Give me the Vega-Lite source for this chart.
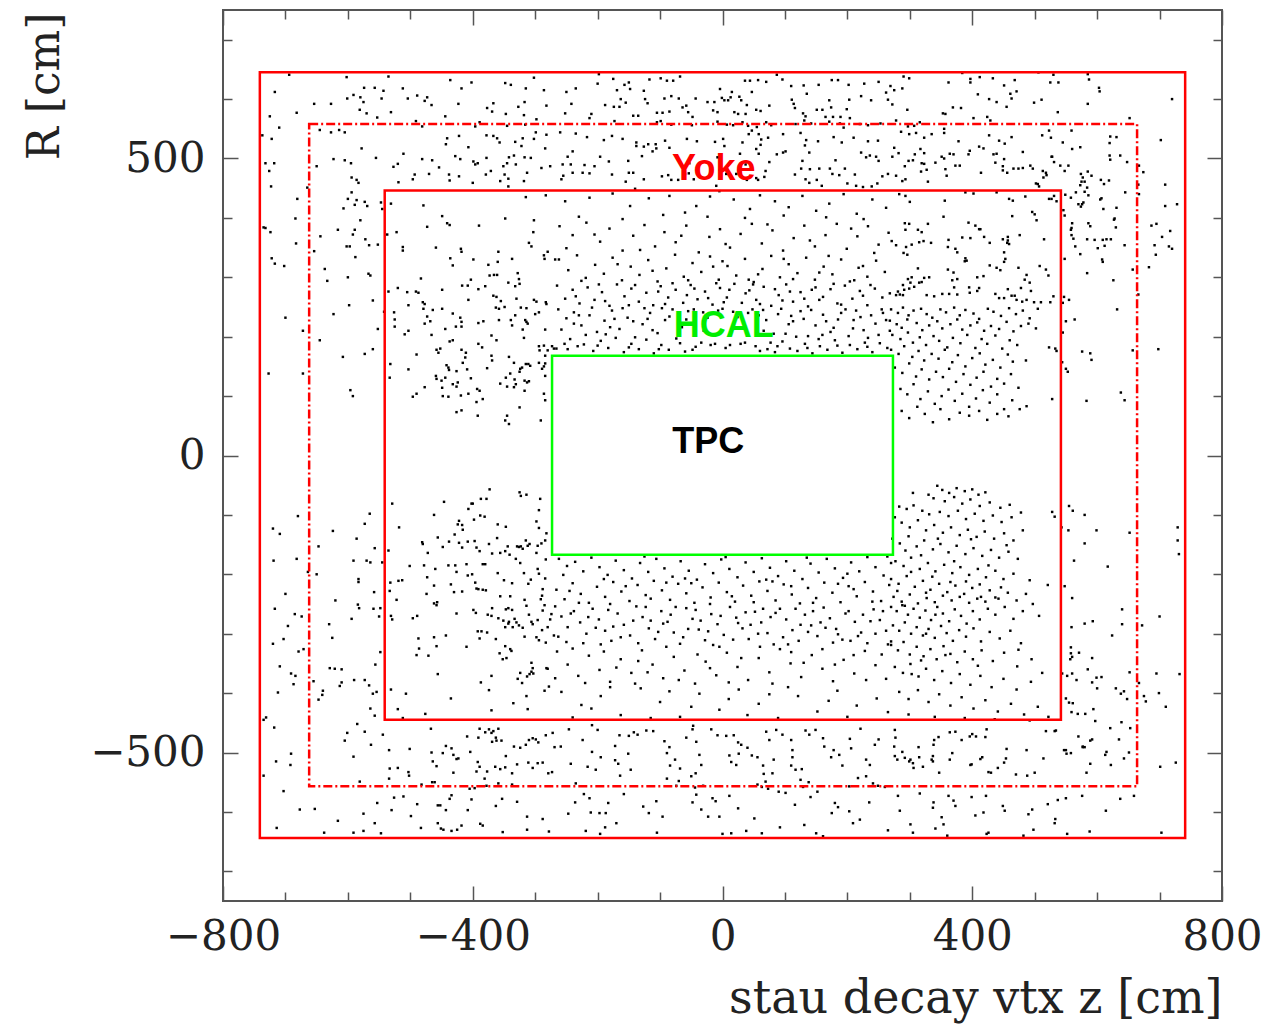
{
  "$schema": "https://vega.github.io/schema/vega-lite/v6.json",
  "autosize": {"type": "none"},
  "width": 999,
  "height": 891,
  "padding": {"left": 223, "top": 10, "right": 64, "bottom": 124},
  "background": "white",
  "config": {
    "view": {"stroke": "#555555", "strokeWidth": 2},
    "axis": {"grid": false, "domain": false, "tickColor": "#555555", "tickWidth": 1.5, "labelFont": "DejaVu Serif", "labelFontSize": 42, "labelColor": "#222222", "titleFont": "DejaVu Serif", "titleFontSize": 44, "titleFontWeight": "normal", "titleColor": "#222222"}
  },
  "datasets": {
    "boxes": [
      {"part": "Yoke outer", "z1": -741, "z2": 741, "r1": -644, "r2": 645},
      {"part": "Yoke inner", "z1": -541, "z2": 542, "r1": -445, "r2": 446},
      {"part": "Yoke middle", "z1": -662, "z2": 664, "r1": -557, "r2": 558},
      {"part": "HCAL", "z1": -273, "z2": 273, "r1": -167, "r2": 168}
    ],
    "labels": [
      {"label": "Yoke", "z": -14, "R": 464},
      {"label": "HCAL", "z": 2, "R": 200},
      {"label": "TPC", "z": -23, "R": 4}
    ]
  },
  "data": {"values": [
{"z":-694,"R":641},{"z":-602,"R":637},{"z":-535,"R":638},{"z":-436,"R":632},{"z":-402,"R":628},{"z":-348,"R":627},{"z":-339,"R":624},{"z":-302,"R":636},{"z":-717,"R":612},{"z":-574,"R":619},{"z":-557,"R":619},{"z":-543,"R":614},{"z":-512,"R":618},{"z":-418,"R":618},{"z":-315,"R":618},{"z":-286,"R":615},{"z":-591,"R":607},{"z":-601,"R":601},{"z":-580,"R":603},{"z":-546,"R":601},{"z":-504,"R":601},{"z":-489,"R":606},{"z":-477,"R":597},{"z":-473,"R":603},{"z":-575,"R":595},{"z":-654,"R":592},{"z":-627,"R":592},{"z":-466,"R":590},{"z":-423,"R":592},{"z":-367,"R":593},{"z":-327,"R":587},{"z":-317,"R":595},{"z":-282,"R":589},{"z":-581,"R":582},{"z":-570,"R":576},{"z":-531,"R":578},{"z":-682,"R":577},{"z":-725,"R":571},{"z":-553,"R":569},{"z":-444,"R":571},{"z":-377,"R":585},{"z":-369,"R":579},{"z":-347,"R":575},{"z":-318,"R":573},{"z":-491,"R":563},{"z":-389,"R":561},{"z":-298,"R":566},{"z":-710,"R":552},{"z":-645,"R":548},{"z":-627,"R":544},{"z":-614,"R":548},{"z":-605,"R":544},{"z":-481,"R":554},{"z":-396,"R":554},{"z":-345,"R":555},{"z":-316,"R":557},{"z":-737,"R":539},{"z":-722,"R":533},{"z":-422,"R":538},{"z":-441,"R":534},{"z":-378,"R":539},{"z":-367,"R":538},{"z":-361,"R":534},{"z":-357,"R":527},{"z":-332,"R":528},{"z":-320,"R":534},{"z":-302,"R":533},{"z":-299,"R":544},{"z":-282,"R":540},{"z":-443,"R":524},{"z":-578,"R":517},{"z":-407,"R":519},{"z":-322,"R":521},{"z":-284,"R":517},{"z":-555,"R":501},{"z":-623,"R":499},{"z":-605,"R":497},{"z":-595,"R":492},{"z":-511,"R":508},{"z":-481,"R":499},{"z":-465,"R":497},{"z":-428,"R":504},{"z":-420,"R":499},{"z":-399,"R":495},{"z":-392,"R":492},{"z":-378,"R":501},{"z":-342,"R":502},{"z":-334,"R":505},{"z":-317,"R":502},{"z":-307,"R":501},{"z":-732,"R":492},{"z":-718,"R":492},{"z":-726,"R":479},{"z":-650,"R":487},{"z":-527,"R":486},{"z":-520,"R":491},{"z":-454,"R":485},{"z":-396,"R":490},{"z":-351,"R":487},{"z":-345,"R":492},{"z":-331,"R":490},{"z":-290,"R":484},{"z":-276,"R":487},{"z":-313,"R":476},{"z":-493,"R":473},{"z":-470,"R":474},{"z":-438,"R":473},{"z":-422,"R":470},{"z":-379,"R":473},{"z":-371,"R":479},{"z":-349,"R":473},{"z":-723,"R":453},{"z":-665,"R":451},{"z":-594,"R":468},{"z":-586,"R":464},{"z":-583,"R":459},{"z":-519,"R":460},{"z":-496,"R":465},{"z":-437,"R":463},{"z":-400,"R":459},{"z":-356,"R":462},{"z":-343,"R":466},{"z":-318,"R":462},{"z":-343,"R":453},
{"z":-681,"R":432},{"z":-600,"R":432},{"z":-586,"R":430},{"z":-607,"R":416},{"z":-589,"R":422},{"z":-573,"R":427},{"z":-569,"R":420},{"z":-547,"R":426},{"z":-545,"R":415},{"z":-684,"R":399},{"z":-580,"R":396},{"z":-735,"R":384},{"z":-732,"R":383},{"z":-724,"R":376},{"z":-644,"R":369},{"z":-616,"R":380},{"z":-592,"R":372},{"z":-589,"R":380},{"z":-572,"R":364},{"z":-566,"R":354},{"z":-552,"R":355},{"z":-602,"R":352},{"z":-597,"R":352},{"z":-588,"R":334},{"z":-654,"R":344},{"z":-683,"R":357},{"z":-722,"R":332},{"z":-717,"R":323},{"z":-702,"R":319},{"z":-637,"R":314},{"z":-633,"R":294},{"z":-600,"R":300},{"z":-567,"R":306},{"z":-564,"R":303},{"z":-560,"R":261},{"z":-598,"R":253},{"z":-594,"R":443},{"z":-700,"R":232},{"z":-672,"R":210},{"z":-645,"R":194},{"z":-623,"R":238},{"z":-608,"R":166},{"z":-573,"R":171},{"z":-560,"R":179},{"z":-552,"R":213},{"z":-727,"R":138},{"z":-672,"R":138},{"z":-596,"R":110},{"z":-592,"R":100},{"z":-542,"R":242},
{"z":-531,"R":424},{"z":-479,"R":421},{"z":-449,"R":403},{"z":-441,"R":391},{"z":-437,"R":388},{"z":-473,"R":385},{"z":-390,"R":387},{"z":-348,"R":399},{"z":-302,"R":396},{"z":-303,"R":376},{"z":-315,"R":435},{"z":-283,"R":438},{"z":-537,"R":372},{"z":-522,"R":376},{"z":-512,"R":351},{"z":-512,"R":345},{"z":-459,"R":350},{"z":-419,"R":348},{"z":-418,"R":343},{"z":-436,"R":332},{"z":-399,"R":330},{"z":-432,"R":320},{"z":-375,"R":321},{"z":-359,"R":343},{"z":-360,"R":326},{"z":-337,"R":331},{"z":-366,"R":304},{"z":-361,"R":304},{"z":-373,"R":303},{"z":-328,"R":307},{"z":-326,"R":297},{"z":-310,"R":358},{"z":-306,"R":352},{"z":-286,"R":337},{"z":-280,"R":343},{"z":-285,"R":331},{"z":-268,"R":330},{"z":-403,"R":296},{"z":-417,"R":286},{"z":-408,"R":286},{"z":-483,"R":298},{"z":-520,"R":282},{"z":-505,"R":275},{"z":-491,"R":276},{"z":-487,"R":274},{"z":-449,"R":279},{"z":-380,"R":285},{"z":-391,"R":280},{"z":-367,"R":269},{"z":-362,"R":267},{"z":-343,"R":291},{"z":-332,"R":285},{"z":-325,"R":289},{"z":-330,"R":264},{"z":-302,"R":262},{"z":-298,"R":259},{"z":-283,"R":258},{"z":-282,"R":255},{"z":-535,"R":276},{"z":-503,"R":253},{"z":-480,"R":258},{"z":-477,"R":255},{"z":-407,"R":262},{"z":-355,"R":260},
{"z":-526,"R":241},{"z":-525,"R":229},{"z":-525,"R":217},{"z":-532,"R":154},{"z":-533,"R":131},{"z":-509,"R":204},{"z":-503,"R":210},{"z":-490,"R":170},{"z":-503,"R":145},{"z":-496,"R":99},{"z":-490,"R":104},{"z":-477,"R":115},{"z":-479,"R":247},{"z":-464,"R":245},{"z":-449,"R":247},{"z":-473,"R":234},{"z":-468,"R":226},{"z":-477,"R":222},{"z":-466,"R":203},{"z":-444,"R":213},{"z":-458,"R":178},{"z":-452,"R":180},{"z":-455,"R":173},{"z":-432,"R":239},{"z":-420,"R":232},{"z":-418,"R":225},{"z":-418,"R":217},{"z":-427,"R":217},{"z":-437,"R":192},{"z":-432,"R":194},{"z":-418,"R":178},{"z":-411,"R":173},{"z":-412,"R":165},{"z":-442,"R":152},{"z":-439,"R":148},{"z":-438,"R":144},{"z":-426,"R":142},{"z":-416,"R":156},{"z":-409,"R":145},{"z":-459,"R":134},{"z":-458,"R":129},{"z":-450,"R":126},{"z":-444,"R":131},{"z":-432,"R":120},{"z":-426,"R":116},{"z":-424,"R":123},{"z":-449,"R":114},{"z":-448,"R":100},{"z":-439,"R":99},{"z":-419,"R":101},{"z":-407,"R":104},{"z":-393,"R":112},{"z":-389,"R":109},{"z":-394,"R":90},{"z":-384,"R":95},{"z":-403,"R":130},{"z":-426,"R":73},{"z":-418,"R":76},{"z":-392,"R":67},{"z":-391,"R":188},{"z":-385,"R":182},{"z":-391,"R":223},{"z":-383,"R":226},{"z":-363,"R":249},{"z":-358,"R":247},{"z":-349,"R":250},{"z":-332,"R":236},{"z":-323,"R":249},{"z":-314,"R":248},{"z":-300,"R":238},{"z":-294,"R":241},{"z":-370,"R":202},{"z":-362,"R":194},{"z":-358,"R":228},{"z":-339,"R":228},{"z":-337,"R":219},{"z":-316,"R":228},{"z":-314,"R":225},{"z":-312,"R":222},{"z":-320,"R":212},{"z":-318,"R":198},{"z":-370,"R":168},{"z":-369,"R":160},{"z":-342,"R":166},{"z":-377,"R":147},{"z":-334,"R":156},{"z":-324,"R":146},{"z":-321,"R":148},{"z":-325,"R":141},{"z":-347,"R":131},{"z":-340,"R":138},{"z":-333,"R":128},{"z":-331,"R":120},{"z":-334,"R":115},{"z":-345,"R":116},{"z":-356,"R":121},{"z":-317,"R":126},{"z":-313,"R":123},{"z":-310,"R":125},{"z":-315,"R":154},{"z":-311,"R":154},{"z":-308,"R":151},{"z":-294,"R":156},{"z":-289,"R":146},{"z":-286,"R":150},{"z":-284,"R":155},{"z":-286,"R":104},{"z":-284,"R":93},{"z":-317,"R":109},{"z":-294,"R":184},{"z":-293,"R":177},{"z":-286,"R":185},{"z":-280,"R":177},{"z":-273,"R":184},{"z":-270,"R":180},{"z":-284,"R":212},{"z":-284,"R":168},{"z":-284,"R":134},{"z":-325,"R":81},{"z":-348,"R":59},{"z":-342,"R":53},{"z":-345,"R":67},{"z":-291,"R":59},
{"z":-680,"R":-102},{"z":-720,"R":-123},{"z":-709,"R":-132},{"z":-624,"R":-127},{"z":-647,"R":-153},{"z":-719,"R":-177},{"z":-682,"R":-174},{"z":-664,"R":-196},{"z":-650,"R":-200},{"z":-700,"R":-233},{"z":-620,"R":-244},{"z":-586,"R":-140},{"z":-573,"R":-115},{"z":-565,"R":-98},{"z":-557,"R":-156},{"z":-570,"R":-177},{"z":-564,"R":-180},{"z":-591,"R":-177},{"z":-583,"R":-208},{"z":-583,"R":-213},{"z":-558,"R":-230},{"z":-545,"R":-180},
{"z":-529,"R":-81},{"z":-518,"R":-121},{"z":-535,"R":-160},{"z":-532,"R":-214},{"z":-533,"R":-228},{"z":-513,"R":-210},{"z":-519,"R":-211},{"z":-522,"R":-243},{"z":-501,"R":-186},{"z":-481,"R":-146},{"z":-480,"R":-149},{"z":-462,"R":-100},{"z":-472,"R":-164},{"z":-478,"R":-185},{"z":-460,"R":-191},{"z":-473,"R":-205},{"z":-462,"R":-219},{"z":-474,"R":-233},{"z":-457,"R":-247},{"z":-446,"R":-78},{"z":-456,"R":-138},{"z":-448,"R":-154},{"z":-438,"R":-145},{"z":-439,"R":-185},{"z":-428,"R":-185},{"z":-426,"R":-196},{"z":-435,"R":-217},{"z":-430,"R":-230},{"z":-417,"R":-229},{"z":-429,"R":-133},{"z":-422,"R":-110},{"z":-424,"R":-116},{"z":-417,"R":-117},{"z":-416,"R":-125},{"z":-407,"R":-90},{"z":-402,"R":-81},{"z":-400,"R":-81},{"z":-398,"R":-108},{"z":-387,"R":-73},{"z":-378,"R":-73},{"z":-373,"R":-57},{"z":-388,"R":-101},{"z":-381,"R":-103},{"z":-422,"R":-147},{"z":-417,"R":-155},{"z":-408,"R":-145},{"z":-397,"R":-144},{"z":-394,"R":-155},{"z":-389,"R":-161},{"z":-384,"R":-183},{"z":-380,"R":-183},{"z":-410,"R":-183},{"z":-408,"R":-202},{"z":-401,"R":-200},{"z":-396,"R":-214},{"z":-394,"R":-224},{"z":-391,"R":-225},{"z":-384,"R":-226},{"z":-379,"R":-227},{"z":-360,"R":-116},{"z":-347,"R":-120},{"z":-361,"R":-139},{"z":-374,"R":-149},{"z":-369,"R":-165},{"z":-360,"R":-198},{"z":-350,"R":-210},{"z":-356,"R":-164},{"z":-348,"R":-161},{"z":-344,"R":-153},{"z":-341,"R":-167},{"z":-329,"R":-153},{"z":-326,"R":-154},{"z":-323,"R":-153},{"z":-320,"R":-157},{"z":-331,"R":-174},{"z":-324,"R":-181},{"z":-356,"R":-237},{"z":-337,"R":-215},{"z":-340,"R":-237},{"z":-317,"R":-243},{"z":-298,"R":-164},{"z":-296,"R":-152},{"z":-312,"R":-152},{"z":-309,"R":-149},{"z":-315,"R":-143},{"z":-290,"R":-148},{"z":-284,"R":-143},{"z":-325,"R":-62},{"z":-323,"R":-68},{"z":-314,"R":-66},{"z":-292,"R":-73},{"z":-294,"R":-92},{"z":-298,"R":-111},{"z":-294,"R":-122},{"z":-282,"R":-131},{"z":-283,"R":-175},{"z":-296,"R":-191},{"z":-294,"R":-199},{"z":-284,"R":-207},{"z":-288,"R":-225},{"z":-289,"R":-236},{"z":-291,"R":-242},{"z":-307,"R":-209},{"z":-311,"R":-216},{"z":-318,"R":-198},
{"z":-717,"R":-258},{"z":-685,"R":-267},{"z":-674,"R":-271},{"z":-696,"R":-287},{"z":-703,"R":-309},{"z":-720,"R":-317},{"z":-679,"R":-330},{"z":-671,"R":-326},{"z":-709,"R":-355},{"z":-691,"R":-367},{"z":-684,"R":-371},{"z":-687,"R":-385},{"z":-712,"R":-399},{"z":-630,"R":-284},{"z":-625,"R":-307},{"z":-594,"R":-275},{"z":-584,"R":-251},{"z":-582,"R":-257},{"z":-559,"R":-258},{"z":-550,"R":-271},{"z":-548,"R":-257},{"z":-548,"R":-331},{"z":-556,"R":-352},{"z":-629,"R":-358},{"z":-621,"R":-359},{"z":-610,"R":-360},{"z":-590,"R":-378},{"z":-573,"R":-378},{"z":-566,"R":-387},{"z":-613,"R":-388},{"z":-610,"R":-382},{"z":-655,"R":-380},{"z":-640,"R":-396},{"z":-641,"R":-403},{"z":-647,"R":-411},{"z":-560,"R":-401},{"z":-554,"R":-398},{"z":-564,"R":-426},{"z":-557,"R":-438},{"z":-735,"R":-445},{"z":-731,"R":-441},
{"z":-531,"R":-270},{"z":-529,"R":-276},{"z":-496,"R":-274},{"z":-489,"R":-270},{"z":-462,"R":-249},{"z":-458,"R":-252},{"z":-426,"R":-266},{"z":-399,"R":-260},{"z":-395,"R":-265},{"z":-376,"R":-268},{"z":-370,"R":-270},{"z":-369,"R":-257},{"z":-359,"R":-274},{"z":-351,"R":-278},{"z":-347,"R":-259},{"z":-343,"R":-257},{"z":-337,"R":-260},{"z":-343,"R":-283},{"z":-336,"R":-289},{"z":-348,"R":-289},{"z":-342,"R":-280},{"z":-333,"R":-275},{"z":-330,"R":-281},{"z":-326,"R":-286},{"z":-320,"R":-290},{"z":-314,"R":-253},{"z":-310,"R":-268},{"z":-306,"R":-280},{"z":-304,"R":-284},{"z":-296,"R":-277},{"z":-288,"R":-261},{"z":-285,"R":-252},{"z":-274,"R":-267},{"z":-276,"R":-276},{"z":-280,"R":-289},{"z":-270,"R":-303},{"z":-487,"R":-308},{"z":-486,"R":-325},{"z":-490,"R":-336},{"z":-471,"R":-337},{"z":-462,"R":-306},{"z":-458,"R":-321},{"z":-443,"R":-303},{"z":-410,"R":-322},{"z":-389,"R":-308},{"z":-392,"R":-296},{"z":-386,"R":-296},{"z":-377,"R":-298},{"z":-363,"R":-309},{"z":-357,"R":-333},{"z":-348,"R":-321},{"z":-340,"R":-326},{"z":-338,"R":-329},{"z":-346,"R":-341},{"z":-352,"R":-343},{"z":-298,"R":-306},{"z":-294,"R":-311},{"z":-283,"R":-315},{"z":-289,"R":-294},{"z":-317,"R":-305},{"z":-456,"R":-368},{"z":-531,"R":-394},{"z":-507,"R":-401},{"z":-520,"R":-427},{"z":-512,"R":-442},{"z":-476,"R":-435},{"z":-435,"R":-409},{"z":-387,"R":-382},{"z":-374,"R":-395},{"z":-370,"R":-371},{"z":-370,"R":-429},{"z":-335,"R":-417},{"z":-324,"R":-366},{"z":-328,"R":-376},{"z":-321,"R":-383},{"z":-313,"R":-372},{"z":-309,"R":-368},{"z":-306,"R":-364},{"z":-303,"R":-367},{"z":-304,"R":-358},{"z":-306,"R":-349},{"z":-314,"R":-405},{"z":-312,"R":-427},{"z":-285,"R":-396},{"z":-278,"R":-389},{"z":-282,"R":-358},{"z":-280,"R":-359},{"z":-268,"R":-375},
{"z":-735,"R":-539},{"z":-715,"R":-515},{"z":-691,"R":-502},{"z":-692,"R":-521},{"z":-718,"R":-458},{"z":-703,"R":-565},{"z":-677,"R":-596},{"z":-653,"R":-595},{"z":-714,"R":-627},{"z":-616,"R":-615},{"z":-638,"R":-635},{"z":-591,"R":-507},{"z":-605,"R":-480},{"z":-601,"R":-467},{"z":-585,"R":-452},{"z":-573,"R":-465},{"z":-563,"R":-487},{"z":-544,"R":-470},{"z":-581,"R":-549},{"z":-575,"R":-603},{"z":-557,"R":-619},{"z":-553,"R":-585},{"z":-547,"R":-636},{"z":-591,"R":-635},{"z":-575,"R":-632},{"z":-534,"R":-496},{"z":-533,"R":-527},{"z":-534,"R":-544},{"z":-520,"R":-526},{"z":-503,"R":-533},{"z":-502,"R":-539},{"z":-501,"R":-494},{"z":-526,"R":-576},{"z":-530,"R":-597},{"z":-511,"R":-574},{"z":-499,"R":-607},{"z":-489,"R":-587},{"z":-467,"R":-460},{"z":-466,"R":-500},{"z":-464,"R":-515},{"z":-458,"R":-523},{"z":-448,"R":-501},{"z":-443,"R":-489},{"z":-434,"R":-493},{"z":-431,"R":-504},{"z":-423,"R":-510},{"z":-426,"R":-511},{"z":-431,"R":-534},{"z":-482,"R":-554},{"z":-465,"R":-550},{"z":-461,"R":-550},{"z":-456,"R":-589},{"z":-452,"R":-589},{"z":-443,"R":-597},{"z":-434,"R":-572},{"z":-437,"R":-578},{"z":-408,"R":-597},{"z":-402,"R":-579},{"z":-483,"R":-627},{"z":-456,"R":-619},{"z":-451,"R":-628},{"z":-447,"R":-630},{"z":-434,"R":-632},{"z":-425,"R":-630},{"z":-418,"R":-623},{"z":-388,"R":-620},{"z":-384,"R":-623},{"z":-409,"R":-473},{"z":-404,"R":-499},{"z":-391,"R":-475},{"z":-389,"R":-460},{"z":-380,"R":-466},{"z":-374,"R":-461},{"z":-370,"R":-467},{"z":-367,"R":-464},{"z":-359,"R":-460},{"z":-363,"R":-475},{"z":-369,"R":-482},{"z":-362,"R":-480},{"z":-354,"R":-480},{"z":-347,"R":-506},{"z":-334,"R":-490},{"z":-324,"R":-492},{"z":-315,"R":-487},{"z":-310,"R":-479},{"z":-304,"R":-476},{"z":-299,"R":-478},{"z":-295,"R":-483},{"z":-283,"R":-471},{"z":-272,"R":-467},{"z":-269,"R":-491},{"z":-392,"R":-516},{"z":-389,"R":-524},{"z":-394,"R":-532},{"z":-381,"R":-544},{"z":-377,"R":-532},{"z":-364,"R":-524},{"z":-356,"R":-528},{"z":-348,"R":-525},{"z":-337,"R":-535},{"z":-329,"R":-520},{"z":-311,"R":-517},{"z":-304,"R":-526},{"z":-296,"R":-518},{"z":-288,"R":-517},{"z":-279,"R":-535},{"z":-273,"R":-533},{"z":-405,"R":-561},{"z":-397,"R":-560},{"z":-378,"R":-556},{"z":-359,"R":-552},{"z":-337,"R":-554},{"z":-363,"R":-590},{"z":-353,"R":-578},{"z":-329,"R":-583},{"z":-313,"R":-608},{"z":-288,"R":-612},{"z":-313,"R":-630},{"z":-278,"R":-633},{"z":-352,"R":-634},
{"z":-198,"R":642},{"z":-200,"R":626},{"z":-175,"R":634},{"z":-169,"R":615},{"z":-157,"R":624},{"z":-150,"R":628},{"z":-148,"R":617},{"z":-126,"R":614},{"z":-117,"R":633},{"z":-99,"R":635},{"z":-89,"R":631},{"z":-79,"R":631},{"z":-68,"R":638},{"z":-250,"R":612},{"z":-235,"R":618},{"z":-163,"R":600},{"z":-124,"R":600},{"z":-93,"R":601},{"z":-82,"R":605},{"z":-70,"R":601},{"z":-43,"R":601},{"z":-24,"R":595},{"z":-13,"R":595},{"z":-4,"R":617},{"z":-1,"R":602},{"z":15,"R":612},{"z":13,"R":603},{"z":9,"R":598},{"z":27,"R":604},{"z":30,"R":598},{"z":47,"R":612},{"z":36,"R":631},{"z":44,"R":631},{"z":57,"R":632},{"z":70,"R":629},{"z":87,"R":641},{"z":96,"R":633},{"z":110,"R":622},{"z":130,"R":623},{"z":135,"R":609},{"z":154,"R":624},{"z":175,"R":632},{"z":185,"R":632},{"z":202,"R":624},{"z":227,"R":626},{"z":250,"R":629},{"z":262,"R":611},{"z":-242,"R":592},{"z":-188,"R":590},{"z":-174,"R":587},{"z":-165,"R":587},{"z":-155,"R":594},{"z":-120,"R":593},{"z":-105,"R":577},{"z":-96,"R":577},{"z":-85,"R":579},{"z":-64,"R":586},{"z":-58,"R":589},{"z":-55,"R":578},{"z":-48,"R":570},{"z":-15,"R":581},{"z":-8,"R":578},{"z":3,"R":598},{"z":19,"R":578},{"z":25,"R":575},{"z":37,"R":575},{"z":39,"R":590},{"z":54,"R":582},{"z":61,"R":580},{"z":75,"R":589},{"z":111,"R":599},{"z":114,"R":592},{"z":116,"R":585},{"z":129,"R":576},{"z":133,"R":571},{"z":151,"R":582},{"z":160,"R":582},{"z":165,"R":570},{"z":171,"R":598},{"z":174,"R":586},{"z":177,"R":570},{"z":189,"R":570},{"z":199,"R":583},{"z":203,"R":599},{"z":204,"R":568},{"z":222,"R":605},{"z":238,"R":598},{"z":265,"R":599},{"z":-252,"R":576},{"z":-213,"R":568},{"z":-210,"R":575},{"z":-173,"R":563},{"z":-143,"R":572},{"z":-135,"R":572},{"z":-105,"R":561},{"z":-99,"R":563},{"z":-82,"R":557},{"z":-49,"R":556},{"z":-8,"R":562},{"z":7,"R":557},{"z":17,"R":556},{"z":32,"R":561},{"z":41,"R":555},{"z":55,"R":553},{"z":70,"R":561},{"z":78,"R":556},{"z":117,"R":558},{"z":131,"R":564},{"z":142,"R":559},{"z":171,"R":562},{"z":188,"R":559},{"z":194,"R":552},{"z":220,"R":558},{"z":233,"R":556},{"z":253,"R":559},{"z":-260,"R":544},{"z":-235,"R":542},{"z":-217,"R":536},{"z":-190,"R":531},{"z":-177,"R":538},{"z":-160,"R":533},{"z":-138,"R":527},{"z":-138,"R":521},{"z":-126,"R":520},{"z":-119,"R":524},{"z":-107,"R":524},{"z":-92,"R":530},{"z":-57,"R":533},{"z":-41,"R":529},{"z":-12,"R":528},{"z":1,"R":533},{"z":3,"R":521},{"z":32,"R":527},{"z":42,"R":541},{"z":47,"R":547},{"z":58,"R":541},{"z":62,"R":532},{"z":73,"R":535},{"z":61,"R":523},{"z":97,"R":541},{"z":125,"R":543},{"z":134,"R":531},{"z":132,"R":522},{"z":153,"R":529},{"z":178,"R":536},{"z":191,"R":527},{"z":210,"R":535},{"z":233,"R":529},{"z":249,"R":530},{"z":-240,"R":512},{"z":-248,"R":503},{"z":-243,"R":490},{"z":-256,"R":490},{"z":-221,"R":489},{"z":-205,"R":487},{"z":-196,"R":503},{"z":-182,"R":495},{"z":-151,"R":496},{"z":-129,"R":504},{"z":-112,"R":512},{"z":-106,"R":517},{"z":-85,"R":518},{"z":-60,"R":474},{"z":-54,"R":475},{"z":-46,"R":465},{"z":-53,"R":492},{"z":-8,"R":502},{"z":-4,"R":481},{"z":11,"R":492},{"z":28,"R":508},{"z":37,"R":490},{"z":54,"R":516},{"z":58,"R":508},{"z":69,"R":479},{"z":75,"R":494},{"z":57,"R":464},{"z":67,"R":469},{"z":87,"R":507},{"z":97,"R":510},{"z":101,"R":512},{"z":128,"R":496},{"z":126,"R":483},{"z":139,"R":510},{"z":140,"R":482},{"z":155,"R":483},{"z":172,"R":483},{"z":176,"R":474},{"z":181,"R":497},{"z":196,"R":483},{"z":212,"R":473},{"z":222,"R":510},{"z":230,"R":502},{"z":236,"R":505},{"z":246,"R":503},{"z":250,"R":496},{"z":256,"R":470},{"z":265,"R":474},{"z":-255,"R":471},{"z":-258,"R":465},{"z":-240,"R":476},{"z":-224,"R":476},{"z":-213,"R":475},{"z":-177,"R":473},{"z":-155,"R":461},{"z":-150,"R":476},{"z":-143,"R":476},{"z":-140,"R":449},{"z":-126,"R":465},{"z":-97,"R":470},{"z":-87,"R":472},{"z":-82,"R":464},{"z":-71,"R":464},{"z":-10,"R":454},{"z":6,"R":474},{"z":22,"R":474},{"z":39,"R":464},{"z":54,"R":467},{"z":116,"R":473},{"z":133,"R":465},{"z":139,"R":459},{"z":151,"R":464},{"z":159,"R":454},{"z":187,"R":472},{"z":200,"R":458},{"z":214,"R":454},{"z":225,"R":452},{"z":239,"R":453},{"z":248,"R":458},
{"z":384,"R":644},{"z":506,"R":645},{"z":530,"R":641},{"z":585,"R":642},{"z":587,"R":633},{"z":290,"R":638},{"z":299,"R":635},{"z":362,"R":628},{"z":397,"R":634},{"z":397,"R":628},{"z":412,"R":637},{"z":433,"R":635},{"z":468,"R":632},{"z":525,"R":628},{"z":538,"R":628},{"z":269,"R":622},{"z":275,"R":615},{"z":288,"R":618},{"z":451,"R":623},{"z":461,"R":609},{"z":471,"R":613},{"z":463,"R":601},{"z":409,"R":608},{"z":427,"R":600},{"z":439,"R":595},{"z":455,"R":587},{"z":499,"R":594},{"z":511,"R":599},{"z":603,"R":619},{"z":604,"R":613},{"z":585,"R":592},{"z":720,"R":600},{"z":272,"R":591},{"z":296,"R":582},{"z":369,"R":586},{"z":382,"R":585},{"z":353,"R":576},{"z":357,"R":575},{"z":537,"R":578},{"z":402,"R":568},{"z":424,"R":570},{"z":429,"R":564},{"z":278,"R":564},{"z":316,"R":561},{"z":297,"R":554},{"z":307,"R":555},{"z":652,"R":568},{"z":355,"R":550},{"z":355,"R":543},{"z":335,"R":541},{"z":323,"R":535},{"z":286,"R":545},{"z":299,"R":541},{"z":310,"R":543},{"z":378,"R":529},{"z":427,"R":539},{"z":443,"R":530},{"z":452,"R":525},{"z":463,"R":536},{"z":512,"R":539},{"z":526,"R":535},{"z":523,"R":547},{"z":559,"R":547},{"z":545,"R":527},{"z":560,"R":516},{"z":621,"R":537},{"z":620,"R":526},{"z":631,"R":536},{"z":702,"R":531},{"z":275,"R":518},{"z":317,"R":516},{"z":323,"R":509},{"z":308,"R":507},{"z":351,"R":503},{"z":355,"R":500},{"z":364,"R":508},{"z":370,"R":507},{"z":394,"R":507},{"z":396,"R":513},{"z":411,"R":520},{"z":418,"R":517},{"z":434,"R":507},{"z":439,"R":508},{"z":451,"R":499},{"z":481,"R":511},{"z":528,"R":503},{"z":531,"R":494},{"z":620,"R":505},{"z":621,"R":498},{"z":637,"R":505},{"z":648,"R":494},{"z":573,"R":519},{"z":272,"R":503},{"z":282,"R":509},{"z":292,"R":487},{"z":298,"R":496},{"z":305,"R":497},{"z":319,"R":492},{"z":323,"R":491},{"z":318,"R":478},{"z":327,"R":481},{"z":341,"R":493},{"z":329,"R":461},{"z":288,"R":462},{"z":293,"R":465},{"z":278,"R":471},{"z":357,"R":482},{"z":359,"R":471},{"z":373,"R":488},{"z":380,"R":488},{"z":414,"R":476},{"z":437,"R":493},{"z":449,"R":487},{"z":456,"R":476},{"z":449,"R":480},{"z":466,"R":483},{"z":474,"R":483},{"z":481,"R":484},{"z":497,"R":483},{"z":493,"R":488},{"z":513,"R":479},{"z":518,"R":476},{"z":519,"R":472},{"z":514,"R":468},{"z":505,"R":457},{"z":502,"R":458},{"z":507,"R":453},{"z":527,"R":503},{"z":541,"R":488},{"z":548,"R":479},{"z":554,"R":488},{"z":574,"R":474},{"z":577,"R":468},{"z":575,"R":461},{"z":580,"R":461},{"z":585,"R":478},{"z":591,"R":471},{"z":573,"R":455},{"z":606,"R":464},{"z":611,"R":457},{"z":619,"R":463},
{"z":549,"R":439},{"z":558,"R":434},{"z":566,"R":443},{"z":576,"R":423},{"z":570,"R":423},{"z":574,"R":419},{"z":578,"R":426},{"z":584,"R":451},{"z":580,"R":444},{"z":586,"R":438},{"z":605,"R":431},{"z":607,"R":433},{"z":610,"R":415},{"z":631,"R":417},{"z":548,"R":404},{"z":546,"R":413},{"z":560,"R":391},{"z":558,"R":380},{"z":559,"R":371},{"z":562,"R":365},{"z":559,"R":383},{"z":586,"R":391},{"z":589,"R":386},{"z":584,"R":364},{"z":596,"R":363},{"z":609,"R":363},{"z":615,"R":364},{"z":622,"R":364},{"z":601,"R":349},{"z":612,"R":353},{"z":627,"R":397},{"z":630,"R":384},{"z":628,"R":399},{"z":644,"R":354},{"z":645,"R":443},{"z":687,"R":387},{"z":695,"R":390},{"z":683,"R":317},{"z":657,"R":313},{"z":565,"R":352},{"z":573,"R":339},{"z":548,"R":331},{"z":584,"R":307},{"z":608,"R":330},{"z":609,"R":326},{"z":667,"R":488},{"z":674,"R":477},{"z":666,"R":456},{"z":667,"R":440},{"z":709,"R":456},{"z":709,"R":420},{"z":717,"R":378},{"z":704,"R":368},{"z":715,"R":352},{"z":720,"R":348},{"z":692,"R":354},{"z":694,"R":338},{"z":728,"R":423},{"z":666,"R":271},{"z":626,"R":295},{"z":555,"R":262},{"z":547,"R":267},{"z":545,"R":257},{"z":550,"R":226},{"z":564,"R":229},{"z":545,"R":207},{"z":533,"R":180},{"z":535,"R":176},{"z":523,"R":182},{"z":544,"R":157},{"z":550,"R":146},{"z":553,"R":141},{"z":576,"R":175},{"z":589,"R":172},{"z":591,"R":161},{"z":528,"R":95},{"z":583,"R":92},{"z":638,"R":106},{"z":644,"R":93},{"z":657,"R":177},{"z":698,"R":179},{"z":632,"R":246},
{"z":283,"R":440},{"z":293,"R":437},{"z":300,"R":427},{"z":356,"R":429},{"z":389,"R":443},{"z":402,"R":441},{"z":439,"R":443},{"z":459,"R":432},{"z":465,"R":429},{"z":485,"R":436},{"z":496,"R":410},{"z":500,"R":406},{"z":503,"R":396},{"z":523,"R":432},{"z":527,"R":432},{"z":531,"R":437},{"z":535,"R":428},{"z":354,"R":402},{"z":464,"R":403},{"z":292,"R":391},{"z":299,"R":390},{"z":329,"R":390},{"z":293,"R":380},{"z":313,"R":380},{"z":319,"R":376},{"z":322,"R":361},{"z":334,"R":358},{"z":315,"R":359},{"z":394,"R":392},{"z":405,"R":387},{"z":411,"R":381},{"z":413,"R":381},{"z":384,"R":367},{"z":397,"R":366},{"z":362,"R":363},{"z":361,"R":351},{"z":373,"R":348},{"z":376,"R":342},{"z":419,"R":368},{"z":428,"R":358},{"z":449,"R":364},{"z":457,"R":368},{"z":457,"R":362},{"z":456,"R":358},{"z":459,"R":356},{"z":476,"R":371},{"z":515,"R":364},{"z":271,"R":361},{"z":278,"R":354},{"z":294,"R":351},{"z":303,"R":355},{"z":290,"R":341},{"z":296,"R":338},{"z":389,"R":332},{"z":391,"R":328},{"z":388,"R":327},{"z":428,"R":320},{"z":439,"R":316},{"z":445,"R":312},{"z":451,"R":326},{"z":451,"R":342},{"z":453,"R":331},{"z":474,"R":316},{"z":487,"R":304},{"z":484,"R":296},{"z":492,"R":291},{"z":508,"R":319},{"z":518,"R":313},{"z":522,"R":303},{"z":361,"R":313},{"z":370,"R":308},{"z":376,"R":297},{"z":368,"R":295},{"z":371,"R":283},{"z":408,"R":300},{"z":418,"R":302},{"z":313,"R":315},{"z":331,"R":300},{"z":323,"R":299},{"z":319,"R":292},{"z":315,"R":291},{"z":303,"R":300},{"z":297,"R":297},{"z":301,"R":291},{"z":307,"R":284},{"z":299,"R":281},{"z":289,"R":287},{"z":291,"R":279},{"z":281,"R":276},{"z":284,"R":271},{"z":278,"R":270},{"z":289,"R":270},{"z":327,"R":270},{"z":339,"R":268},{"z":352,"R":272},{"z":363,"R":272},{"z":376,"R":271},{"z":395,"R":283},{"z":396,"R":274},{"z":408,"R":277},{"z":411,"R":282},{"z":437,"R":272},{"z":443,"R":265},{"z":468,"R":269},{"z":478,"R":282},{"z":494,"R":277},{"z":451,"R":265},{"z":457,"R":280},{"z":463,"R":269},{"z":471,"R":262},{"z":480,"R":259},{"z":487,"R":262},{"z":499,"R":258},{"z":510,"R":258},{"z":525,"R":258},{"z":530,"R":268},
{"z":270,"R":246},{"z":281,"R":240},{"z":289,"R":249},{"z":298,"R":236},{"z":306,"R":244},{"z":318,"R":247},{"z":327,"R":238},{"z":336,"R":232},{"z":349,"R":246},{"z":358,"R":241},{"z":371,"R":249},{"z":380,"R":236},{"z":389,"R":245},{"z":402,"R":239},{"z":411,"R":230},{"z":425,"R":247},{"z":434,"R":242},{"z":446,"R":235},{"z":459,"R":248},{"z":470,"R":238},{"z":481,"R":244},{"z":492,"R":231},{"z":505,"R":247},{"z":268,"R":227},{"z":279,"R":221},{"z":287,"R":215},{"z":296,"R":229},{"z":311,"R":223},{"z":320,"R":211},{"z":331,"R":219},{"z":344,"R":226},{"z":352,"R":214},{"z":365,"R":221},{"z":376,"R":229},{"z":384,"R":212},{"z":397,"R":219},{"z":408,"R":224},{"z":419,"R":210},{"z":430,"R":218},{"z":443,"R":213},{"z":455,"R":225},{"z":466,"R":209},{"z":478,"R":218},{"z":490,"R":222},{"z":502,"R":214},{"z":272,"R":203},{"z":285,"R":196},{"z":297,"R":207},{"z":305,"R":190},{"z":316,"R":199},{"z":326,"R":186},{"z":338,"R":201},{"z":347,"R":193},{"z":360,"R":182},{"z":369,"R":198},{"z":381,"R":189},{"z":392,"R":203},{"z":405,"R":181},{"z":415,"R":196},{"z":424,"R":188},{"z":437,"R":202},{"z":448,"R":180},{"z":460,"R":194},{"z":472,"R":186},{"z":270,"R":178},{"z":282,"R":171},{"z":291,"R":184},{"z":304,"R":166},{"z":314,"R":176},{"z":323,"R":160},{"z":335,"R":171},{"z":346,"R":163},{"z":356,"R":178},{"z":368,"R":157},{"z":377,"R":169},{"z":389,"R":150},{"z":400,"R":164},{"z":412,"R":172},{"z":421,"R":153},{"z":433,"R":161},{"z":445,"R":148},{"z":457,"R":170},{"z":465,"R":158},{"z":486,"R":160},{"z":276,"R":148},{"z":288,"R":139},{"z":299,"R":155},{"z":310,"R":133},{"z":319,"R":145},{"z":331,"R":128},{"z":342,"R":141},{"z":353,"R":132},{"z":363,"R":146},{"z":374,"R":124},{"z":386,"R":137},{"z":397,"R":119},{"z":407,"R":131},{"z":418,"R":141},{"z":430,"R":116},{"z":440,"R":129},{"z":451,"R":121},{"z":462,"R":137},{"z":474,"R":114},{"z":285,"R":112},{"z":296,"R":103},{"z":306,"R":120},{"z":317,"R":95},{"z":329,"R":108},{"z":340,"R":87},{"z":351,"R":100},{"z":362,"R":111},{"z":372,"R":92},{"z":384,"R":104},{"z":395,"R":82},{"z":406,"R":96},{"z":417,"R":110},{"z":428,"R":89},{"z":440,"R":103},{"z":451,"R":78},{"z":464,"R":93},{"z":487,"R":83},{"z":287,"R":75},{"z":299,"R":63},{"z":312,"R":82},{"z":324,"R":70},{"z":337,"R":56},{"z":349,"R":78},{"z":363,"R":61},{"z":380,"R":72},{"z":395,"R":67},{"z":411,"R":75},{"z":424,"R":60},{"z":440,"R":70},{"z":458,"R":66},{"z":476,"R":78},
{"z":344,"R":-51},{"z":352,"R":-58},{"z":363,"R":-63},{"z":375,"R":-55},{"z":388,"R":-60},{"z":400,"R":-57},{"z":410,"R":-66},{"z":421,"R":-62},{"z":338,"R":-72},{"z":356,"R":-77},{"z":371,"R":-70},{"z":384,"R":-81},{"z":397,"R":-74},{"z":412,"R":-85},{"z":428,"R":-79},{"z":445,"R":-88},{"z":460,"R":-83},{"z":283,"R":-86},{"z":295,"R":-90},{"z":306,"R":-84},{"z":320,"R":-93},{"z":331,"R":-99},{"z":348,"R":-95},{"z":362,"R":-102},{"z":377,"R":-93},{"z":390,"R":-107},{"z":404,"R":-98},{"z":418,"R":-110},{"z":433,"R":-101},{"z":447,"R":-112},{"z":463,"R":-104},{"z":478,"R":-96},{"z":287,"R":-113},{"z":300,"R":-121},{"z":313,"R":-109},{"z":326,"R":-126},{"z":339,"R":-117},{"z":353,"R":-130},{"z":366,"R":-121},{"z":380,"R":-134},{"z":393,"R":-125},{"z":407,"R":-137},{"z":420,"R":-128},{"z":435,"R":-140},{"z":451,"R":-131},{"z":466,"R":-143},{"z":481,"R":-126},{"z":272,"R":-140},{"z":284,"R":-148},{"z":298,"R":-136},{"z":311,"R":-153},{"z":323,"R":-143},{"z":337,"R":-158},{"z":349,"R":-149},{"z":362,"R":-163},{"z":375,"R":-152},{"z":389,"R":-166},{"z":402,"R":-156},{"z":416,"R":-169},{"z":430,"R":-159},{"z":443,"R":-172},{"z":458,"R":-162},{"z":473,"R":-174},{"z":277,"R":-178},{"z":290,"R":-186},{"z":302,"R":-172},{"z":316,"R":-191},{"z":329,"R":-181},{"z":341,"R":-195},{"z":355,"R":-184},{"z":368,"R":-198},{"z":381,"R":-188},{"z":395,"R":-201},{"z":409,"R":-191},{"z":422,"R":-205},{"z":437,"R":-194},{"z":450,"R":-208},{"z":466,"R":-199},{"z":492,"R":-210},{"z":270,"R":-208},{"z":282,"R":-216},{"z":295,"R":-203},{"z":308,"R":-221},{"z":321,"R":-211},{"z":333,"R":-226},{"z":347,"R":-216},{"z":360,"R":-230},{"z":373,"R":-219},{"z":387,"R":-233},{"z":400,"R":-223},{"z":414,"R":-238},{"z":428,"R":-227},{"z":442,"R":-241},{"z":457,"R":-231},{"z":471,"R":-244},{"z":274,"R":-238},{"z":287,"R":-246},{"z":300,"R":-234},{"z":313,"R":-249},{"z":327,"R":-240},{"z":340,"R":-247},{"z":353,"R":-236},{"z":367,"R":-244},{"z":380,"R":-238},{"z":395,"R":-248},{"z":408,"R":-241},{"z":421,"R":-246},{"z":437,"R":-239},{"z":486,"R":-233},{"z":305,"R":-63},{"z":330,"R":-66},{"z":276,"R":-104},{"z":293,"R":-160},{"z":318,"R":-168},{"z":345,"R":-140},{"z":371,"R":-178},{"z":398,"R":-141},{"z":426,"R":-185},{"z":455,"R":-151},{"z":302,"R":-196},{"z":336,"R":-204},{"z":365,"R":-213},{"z":412,"R":-217},{"z":446,"R":-222},{"z":280,"R":-228},{"z":326,"R":-231},{"z":390,"R":-212},
{"z":270,"R":-255},{"z":279,"R":-262},{"z":288,"R":-252},{"z":297,"R":-268},{"z":306,"R":-258},{"z":316,"R":-273},{"z":325,"R":-261},{"z":334,"R":-277},{"z":344,"R":-255},{"z":353,"R":-266},{"z":363,"R":-279},{"z":372,"R":-259},{"z":382,"R":-270},{"z":391,"R":-283},{"z":401,"R":-262},{"z":412,"R":-276},{"z":425,"R":-258},{"z":437,"R":-268},{"z":452,"R":-255},{"z":466,"R":-275},{"z":481,"R":-262},{"z":497,"R":-250},{"z":507,"R":-270},{"z":273,"R":-286},{"z":283,"R":-295},{"z":292,"R":-281},{"z":302,"R":-300},{"z":311,"R":-289},{"z":321,"R":-303},{"z":330,"R":-292},{"z":340,"R":-307},{"z":350,"R":-287},{"z":359,"R":-299},{"z":369,"R":-312},{"z":379,"R":-294},{"z":390,"R":-305},{"z":402,"R":-291},{"z":414,"R":-313},{"z":428,"R":-297},{"z":444,"R":-308},{"z":461,"R":-295},{"z":478,"R":-316},{"z":270,"R":-319},{"z":281,"R":-328},{"z":290,"R":-314},{"z":300,"R":-335},{"z":311,"R":-322},{"z":322,"R":-338},{"z":333,"R":-326},{"z":343,"R":-343},{"z":354,"R":-321},{"z":365,"R":-334},{"z":376,"R":-348},{"z":388,"R":-330},{"z":401,"R":-343},{"z":415,"R":-328},{"z":433,"R":-346},{"z":451,"R":-332},{"z":472,"R":-355},{"z":495,"R":-343},{"z":276,"R":-356},{"z":289,"R":-366},{"z":301,"R":-351},{"z":314,"R":-372},{"z":326,"R":-359},{"z":339,"R":-378},{"z":352,"R":-363},{"z":366,"R":-383},{"z":380,"R":-368},{"z":397,"R":-386},{"z":413,"R":-371},{"z":431,"R":-390},{"z":450,"R":-376},{"z":471,"R":-394},{"z":494,"R":-381},{"z":512,"R":-366},{"z":283,"R":-398},{"z":298,"R":-410},{"z":313,"R":-395},{"z":330,"R":-415},{"z":347,"R":-402},{"z":365,"R":-421},{"z":383,"R":-407},{"z":402,"R":-426},{"z":421,"R":-412},{"z":441,"R":-431},{"z":462,"R":-418},{"z":483,"R":-436},{"z":505,"R":-423},{"z":522,"R":-440},{"z":298,"R":-436},{"z":340,"R":-440},{"z":388,"R":-442},{"z":436,"R":-444},{"z":492,"R":-446},{"z":326,"R":-300},{"z":341,"R":-268},{"z":357,"R":-336},{"z":318,"R":-345},{"z":303,"R":-368},{"z":292,"R":-253},{"z":409,"R":-354},{"z":474,"R":-327},
{"z":528,"R":-95},{"z":532,"R":-103},{"z":555,"R":-85},{"z":561,"R":-93},{"z":580,"R":-100},{"z":543,"R":-121},{"z":554,"R":-126},{"z":580,"R":-148},{"z":599,"R":-126},{"z":563,"R":-177},{"z":617,"R":-187},{"z":652,"R":-130},{"z":729,"R":-121},{"z":729,"R":-143},{"z":731,"R":-166},{"z":521,"R":-218},{"z":548,"R":-220},{"z":560,"R":-240},
{"z":559,"R":-289},{"z":580,"R":-283},{"z":593,"R":-279},{"z":624,"R":-303},{"z":640,"R":-259},{"z":640,"R":-284},{"z":672,"R":-286},{"z":700,"R":-271},{"z":558,"R":-323},{"z":558,"R":-333},{"z":560,"R":-339},{"z":557,"R":-343},{"z":571,"R":-332},{"z":592,"R":-341},{"z":585,"R":-360},{"z":544,"R":-367},{"z":552,"R":-371},{"z":560,"R":-367},{"z":567,"R":-378},{"z":592,"R":-382},{"z":599,"R":-374},{"z":607,"R":-373},{"z":600,"R":-392},{"z":630,"R":-392},{"z":638,"R":-401},{"z":643,"R":-397},{"z":648,"R":-410},{"z":652,"R":-365},{"z":667,"R":-383},{"z":675,"R":-405},{"z":678,"R":-414},{"z":695,"R":-367},{"z":699,"R":-400},{"z":710,"R":-423},{"z":732,"R":-368},{"z":550,"R":-409},{"z":555,"R":-416},{"z":561,"R":-417},{"z":559,"R":-432},{"z":569,"R":-435},{"z":581,"R":-435},{"z":594,"R":-427},{"z":597,"R":-447},{"z":621,"R":-459},{"z":639,"R":-449},{"z":653,"R":-459},{"z":635,"R":-478},{"z":570,"R":-473},{"z":577,"R":-490},{"z":580,"R":-491},{"z":589,"R":-480},{"z":592,"R":-478},{"z":615,"R":-499},{"z":613,"R":-504},{"z":622,"R":-521},{"z":643,"R":-510},{"z":651,"R":-500},{"z":589,"R":-519},{"z":583,"R":-534},{"z":558,"R":-501},{"z":550,"R":-496},{"z":701,"R":-524},{"z":726,"R":-517},
{"z":276,"R":-462},{"z":277,"R":-475},{"z":275,"R":-490},{"z":276,"R":-506},{"z":280,"R":-512},{"z":288,"R":-499},{"z":292,"R":-509},{"z":299,"R":-515},{"z":301,"R":-512},{"z":314,"R":-491},{"z":315,"R":-508},{"z":305,"R":-518},{"z":306,"R":-526},{"z":321,"R":-524},{"z":335,"R":-512},{"z":337,"R":-515},{"z":339,"R":-479},{"z":346,"R":-474},{"z":338,"R":-487},{"z":347,"R":-534},{"z":337,"R":-506},{"z":364,"R":-466},{"z":364,"R":-512},{"z":368,"R":-501},{"z":373,"R":-465},{"z":383,"R":-479},{"z":396,"R":-473},{"z":400,"R":-469},{"z":406,"R":-473},{"z":413,"R":-511},{"z":416,"R":-508},{"z":421,"R":-474},{"z":423,"R":-461},{"z":426,"R":-533},{"z":430,"R":-534},{"z":399,"R":-520},{"z":397,"R":-521},{"z":441,"R":-526},{"z":451,"R":-517},{"z":454,"R":-510},{"z":455,"R":-494},{"z":470,"R":-537},{"z":487,"R":-496},{"z":488,"R":-539},{"z":500,"R":-534},{"z":514,"R":-510},{"z":518,"R":-464},{"z":532,"R":-464},{"z":534,"R":-463},{"z":547,"R":-496},{"z":551,"R":-502},{"z":577,"R":-491},
{"z":281,"R":-573},{"z":284,"R":-598},{"z":316,"R":-569},{"z":338,"R":-584},{"z":337,"R":-593},{"z":351,"R":-609},{"z":354,"R":-621},{"z":341,"R":-628},{"z":305,"R":-635},{"z":301,"R":-621},{"z":362,"R":-573},{"z":370,"R":-581},{"z":373,"R":-590},{"z":360,"R":-640},{"z":399,"R":-575},{"z":422,"R":-573},{"z":405,"R":-606},{"z":418,"R":-601},{"z":423,"R":-637},{"z":426,"R":-635},{"z":449,"R":-590},{"z":452,"R":-598},{"z":490,"R":-604},{"z":496,"R":-596},{"z":498,"R":-630},{"z":482,"R":-640},{"z":521,"R":-587},{"z":533,"R":-612},{"z":532,"R":-619},{"z":537,"R":-580},{"z":550,"R":-577},{"z":576,"R":-573},{"z":552,"R":-637},{"z":588,"R":-633},{"z":614,"R":-598},{"z":637,"R":-578},{"z":659,"R":-573},{"z":703,"R":-635},
{"z":-252,"R":428},{"z":-213,"R":434},{"z":-176,"R":441},{"z":-148,"R":420},{"z":-118,"R":433},{"z":-85,"R":437},{"z":-60,"R":409},{"z":-42,"R":420},{"z":-20,"R":436},{"z":-5,"R":445},{"z":18,"R":431},{"z":44,"R":415},{"z":60,"R":438},{"z":84,"R":428},{"z":106,"R":418},{"z":128,"R":437},{"z":150,"R":412},{"z":171,"R":424},{"z":194,"R":440},{"z":215,"R":407},{"z":240,"R":431},{"z":262,"R":417},{"z":-230,"R":402},{"z":-160,"R":398},{"z":-95,"R":405},{"z":-24,"R":402},{"z":36,"R":400},{"z":98,"R":404},{"z":166,"R":401},{"z":226,"R":398},
{"z":-261,"R":386},{"z":-240,"R":371},{"z":-218,"R":392},{"z":-196,"R":360},{"z":-181,"R":382},{"z":-160,"R":345},{"z":-143,"R":370},{"z":-125,"R":388},{"z":-108,"R":352},{"z":-93,"R":376},{"z":-75,"R":359},{"z":-58,"R":387},{"z":-38,"R":342},{"z":-21,"R":368},{"z":-4,"R":381},{"z":12,"R":350},{"z":29,"R":373},{"z":47,"R":390},{"z":63,"R":357},{"z":80,"R":379},{"z":97,"R":345},{"z":114,"R":366},{"z":131,"R":387},{"z":148,"R":352},{"z":165,"R":371},{"z":183,"R":390},{"z":199,"R":348},{"z":216,"R":369},{"z":233,"R":386},{"z":250,"R":355},{"z":266,"R":375},{"z":-250,"R":349},{"z":-205,"R":372},{"z":-132,"R":346},{"z":-66,"R":370},{"z":5,"R":356},{"z":72,"R":389},{"z":140,"R":362},{"z":206,"R":382},{"z":243,"R":341},
{"z":-262,"R":330},{"z":-247,"R":312},{"z":-233,"R":337},{"z":-219,"R":299},{"z":-204,"R":321},{"z":-190,"R":306},{"z":-176,"R":333},{"z":-161,"R":295},{"z":-147,"R":318},{"z":-133,"R":304},{"z":-119,"R":329},{"z":-104,"R":293},{"z":-90,"R":315},{"z":-76,"R":338},{"z":-62,"R":301},{"z":-48,"R":324},{"z":-34,"R":309},{"z":-20,"R":335},{"z":-6,"R":296},{"z":8,"R":319},{"z":22,"R":303},{"z":36,"R":331},{"z":50,"R":292},{"z":64,"R":314},{"z":78,"R":336},{"z":92,"R":300},{"z":106,"R":322},{"z":120,"R":307},{"z":134,"R":333},{"z":148,"R":296},{"z":162,"R":318},{"z":176,"R":305},{"z":190,"R":330},{"z":204,"R":293},{"z":218,"R":316},{"z":232,"R":301},{"z":246,"R":328},{"z":260,"R":309},{"z":-226,"R":294},{"z":-168,"R":322},{"z":-112,"R":311},{"z":-55,"R":295},{"z":0,"R":327},{"z":57,"R":305},{"z":113,"R":297},{"z":170,"R":336},{"z":225,"R":319},{"z":-15,"R":318},{"z":42,"R":296},{"z":98,"R":331},{"z":155,"R":308},{"z":211,"R":295},
{"z":-265,"R":286},{"z":-252,"R":264},{"z":-240,"R":279},{"z":-229,"R":256},{"z":-216,"R":283},{"z":-205,"R":262},{"z":-193,"R":275},{"z":-181,"R":252},{"z":-169,"R":288},{"z":-157,"R":268},{"z":-146,"R":281},{"z":-134,"R":259},{"z":-122,"R":274},{"z":-111,"R":253},{"z":-99,"R":285},{"z":-87,"R":266},{"z":-75,"R":279},{"z":-63,"R":257},{"z":-51,"R":287},{"z":-40,"R":263},{"z":-28,"R":276},{"z":-16,"R":254},{"z":-4,"R":282},{"z":7,"R":266},{"z":19,"R":289},{"z":31,"R":257},{"z":43,"R":278},{"z":54,"R":262},{"z":66,"R":284},{"z":78,"R":252},{"z":90,"R":270},{"z":102,"R":288},{"z":113,"R":259},{"z":125,"R":275},{"z":137,"R":251},{"z":149,"R":283},{"z":161,"R":267},{"z":173,"R":280},{"z":184,"R":256},{"z":196,"R":286},{"z":208,"R":264},{"z":220,"R":277},{"z":232,"R":253},{"z":244,"R":281},{"z":256,"R":266},{"z":268,"R":273},{"z":-235,"R":268},{"z":-188,"R":260},{"z":-140,"R":287},{"z":-92,"R":255},{"z":-45,"R":281},{"z":2,"R":258},{"z":49,"R":288},{"z":96,"R":261},{"z":143,"R":279},{"z":190,"R":254},{"z":237,"R":287},{"z":-198,"R":288},{"z":-150,"R":253},{"z":-103,"R":276},{"z":-57,"R":270},{"z":-10,"R":290},{"z":37,"R":273},{"z":84,"R":280},{"z":131,"R":264},{"z":178,"R":289},{"z":225,"R":269},{"z":11,"R":279},{"z":60,"R":255},{"z":108,"R":276},{"z":155,"R":262},{"z":-80,"R":290},{"z":-23,"R":265},
{"z":-263,"R":246},{"z":-250,"R":231},{"z":-238,"R":241},{"z":-226,"R":219},{"z":-213,"R":236},{"z":-201,"R":208},{"z":-189,"R":227},{"z":-177,"R":244},{"z":-165,"R":213},{"z":-152,"R":232},{"z":-140,"R":199},{"z":-128,"R":221},{"z":-116,"R":240},{"z":-104,"R":206},{"z":-92,"R":228},{"z":-80,"R":246},{"z":-68,"R":189},{"z":-55,"R":243},{"z":-43,"R":183},{"z":-31,"R":241},{"z":-19,"R":186},{"z":-7,"R":244},{"z":5,"R":181},{"z":17,"R":242},{"z":29,"R":188},{"z":41,"R":240},{"z":53,"R":184},{"z":65,"R":245},{"z":77,"R":190},{"z":89,"R":238},{"z":101,"R":205},{"z":113,"R":226},{"z":125,"R":243},{"z":137,"R":201},{"z":149,"R":219},{"z":161,"R":237},{"z":173,"R":208},{"z":185,"R":229},{"z":197,"R":246},{"z":209,"R":214},{"z":221,"R":233},{"z":233,"R":198},{"z":245,"R":222},{"z":257,"R":240},{"z":268,"R":210},{"z":-258,"R":212},{"z":-244,"R":196},{"z":-232,"R":184},{"z":-219,"R":203},{"z":-207,"R":176},{"z":-195,"R":193},{"z":-183,"R":181},{"z":-171,"R":198},{"z":-158,"R":174},{"z":-146,"R":188},{"z":-134,"R":179},{"z":-122,"R":195},{"z":-110,"R":172},{"z":-98,"R":186},{"z":-86,"R":178},{"z":-74,"R":197},{"z":-60,"R":175},{"z":-48,"R":178},{"z":60,"R":176},{"z":72,"R":179},{"z":84,"R":174},{"z":96,"R":192},{"z":108,"R":180},{"z":120,"R":176},{"z":132,"R":188},{"z":144,"R":172},{"z":156,"R":184},{"z":168,"R":178},{"z":180,"R":194},{"z":192,"R":173},{"z":204,"R":186},{"z":216,"R":179},{"z":228,"R":190},{"z":240,"R":174},{"z":252,"R":189},{"z":264,"R":181},{"z":-266,"R":180},{"z":-253,"R":188},{"z":-238,"R":222},{"z":-222,"R":187},{"z":-209,"R":249},{"z":-187,"R":204},{"z":-173,"R":230},{"z":-160,"R":248},{"z":-143,"R":226},{"z":-125,"R":248},{"z":-112,"R":211},{"z":-97,"R":248},{"z":-85,"R":234},{"z":-70,"R":236},{"z":-58,"R":229},{"z":-46,"R":246},{"z":-34,"R":190},{"z":-24,"R":232},{"z":-12,"R":188},{"z":0,"R":247},{"z":12,"R":186},{"z":24,"R":233},{"z":36,"R":190},{"z":48,"R":246},{"z":58,"R":236},{"z":70,"R":228},{"z":82,"R":205},{"z":94,"R":247},{"z":106,"R":221},{"z":118,"R":200},{"z":130,"R":230},{"z":142,"R":245},{"z":154,"R":196},{"z":166,"R":226},{"z":178,"R":215},{"z":190,"R":240},{"z":202,"R":201},{"z":214,"R":244},{"z":226,"R":211},{"z":238,"R":236},{"z":250,"R":203},{"z":262,"R":228},{"z":-248,"R":179},{"z":-200,"R":185},{"z":-150,"R":182},{"z":-102,"R":179},{"z":88,"R":184},{"z":136,"R":181},{"z":184,"R":185},{"z":232,"R":183},{"z":-230,"R":236},{"z":-180,"R":216},{"z":-120,"R":230},{"z":-65,"R":216},{"z":-30,"R":210},{"z":30,"R":215},{"z":66,"R":210},{"z":110,"R":235},{"z":160,"R":203},{"z":210,"R":228},{"z":255,"R":246},
{"z":-262,"R":-174},{"z":-249,"R":-186},{"z":-236,"R":-179},{"z":-223,"R":-195},{"z":-210,"R":-172},{"z":-197,"R":-188},{"z":-184,"R":-201},{"z":-171,"R":-177},{"z":-158,"R":-193},{"z":-145,"R":-207},{"z":-132,"R":-181},{"z":-119,"R":-196},{"z":-106,"R":-174},{"z":-93,"R":-190},{"z":-80,"R":-204},{"z":-67,"R":-178},{"z":-54,"R":-194},{"z":-41,"R":-209},{"z":-28,"R":-183},{"z":-15,"R":-198},{"z":-2,"R":-175},{"z":11,"R":-191},{"z":24,"R":-205},{"z":37,"R":-180},{"z":50,"R":-196},{"z":63,"R":-173},{"z":76,"R":-189},{"z":89,"R":-203},{"z":102,"R":-178},{"z":115,"R":-194},{"z":128,"R":-208},{"z":141,"R":-182},{"z":154,"R":-197},{"z":167,"R":-174},{"z":180,"R":-190},{"z":193,"R":-206},{"z":206,"R":-180},{"z":219,"R":-195},{"z":232,"R":-171},{"z":245,"R":-188},{"z":258,"R":-202},{"z":270,"R":-181},{"z":-255,"R":-201},{"z":-190,"R":-208},{"z":-125,"R":-170},{"z":-60,"R":-207},{"z":5,"R":-171},{"z":70,"R":-209},{"z":135,"R":-172},{"z":200,"R":-199},{"z":264,"R":-170},
{"z":-266,"R":-226},{"z":-253,"R":-242},{"z":-240,"R":-215},{"z":-227,"R":-233},{"z":-214,"R":-248},{"z":-201,"R":-221},{"z":-188,"R":-238},{"z":-175,"R":-213},{"z":-162,"R":-229},{"z":-149,"R":-245},{"z":-136,"R":-218},{"z":-123,"R":-235},{"z":-110,"R":-211},{"z":-97,"R":-227},{"z":-84,"R":-243},{"z":-71,"R":-216},{"z":-58,"R":-232},{"z":-45,"R":-248},{"z":-32,"R":-222},{"z":-19,"R":-239},{"z":-6,"R":-214},{"z":7,"R":-230},{"z":20,"R":-246},{"z":33,"R":-219},{"z":46,"R":-236},{"z":59,"R":-212},{"z":72,"R":-228},{"z":85,"R":-244},{"z":98,"R":-217},{"z":111,"R":-234},{"z":124,"R":-249},{"z":137,"R":-223},{"z":150,"R":-240},{"z":163,"R":-214},{"z":176,"R":-231},{"z":189,"R":-247},{"z":202,"R":-220},{"z":215,"R":-237},{"z":228,"R":-213},{"z":241,"R":-229},{"z":254,"R":-245},{"z":267,"R":-218},{"z":-245,"R":-228},{"z":-180,"R":-250},{"z":-115,"R":-241},{"z":-50,"R":-215},{"z":15,"R":-237},{"z":80,"R":-212},{"z":145,"R":-248},{"z":210,"R":-225},{"z":-155,"R":-220},{"z":-20,"R":-250},{"z":110,"R":-220},{"z":240,"R":-246},{"z":-230,"R":-248},{"z":-90,"R":-214},{"z":50,"R":-247},{"z":185,"R":-216},
{"z":-268,"R":-254},{"z":-258,"R":-271},{"z":-248,"R":-289},{"z":-238,"R":-262},{"z":-228,"R":-281},{"z":-218,"R":-300},{"z":-208,"R":-258},{"z":-198,"R":-276},{"z":-188,"R":-295},{"z":-178,"R":-312},{"z":-168,"R":-266},{"z":-158,"R":-285},{"z":-148,"R":-303},{"z":-138,"R":-254},{"z":-128,"R":-272},{"z":-118,"R":-291},{"z":-108,"R":-309},{"z":-98,"R":-262},{"z":-88,"R":-280},{"z":-78,"R":-298},{"z":-68,"R":-317},{"z":-58,"R":-257},{"z":-48,"R":-275},{"z":-38,"R":-293},{"z":-28,"R":-311},{"z":-18,"R":-267},{"z":-8,"R":-284},{"z":2,"R":-302},{"z":12,"R":-255},{"z":22,"R":-273},{"z":32,"R":-291},{"z":42,"R":-309},{"z":52,"R":-263},{"z":62,"R":-281},{"z":72,"R":-299},{"z":82,"R":-318},{"z":92,"R":-258},{"z":102,"R":-276},{"z":112,"R":-294},{"z":122,"R":-312},{"z":132,"R":-268},{"z":142,"R":-286},{"z":152,"R":-304},{"z":162,"R":-256},{"z":172,"R":-274},{"z":182,"R":-292},{"z":192,"R":-310},{"z":202,"R":-262},{"z":212,"R":-280},{"z":222,"R":-298},{"z":232,"R":-316},{"z":242,"R":-259},{"z":252,"R":-277},{"z":262,"R":-295},{"z":270,"R":-313},{"z":-263,"R":-305},{"z":-243,"R":-266},{"z":-223,"R":-316},{"z":-203,"R":-290},{"z":-183,"R":-260},{"z":-163,"R":-306},{"z":-143,"R":-278},{"z":-123,"R":-255},{"z":-103,"R":-297},{"z":-83,"R":-268},{"z":-63,"R":-306},{"z":-43,"R":-260},{"z":-23,"R":-296},{"z":-3,"R":-270},{"z":17,"R":-310},{"z":37,"R":-264},{"z":57,"R":-300},{"z":77,"R":-272},{"z":97,"R":-306},{"z":117,"R":-258},{"z":137,"R":-297},{"z":157,"R":-281},{"z":177,"R":-315},{"z":197,"R":-266},{"z":217,"R":-304},{"z":237,"R":-279},{"z":257,"R":-262},{"z":-250,"R":-314},{"z":-215,"R":-272},{"z":-175,"R":-288},{"z":-135,"R":-316},{"z":-95,"R":-283},{"z":-55,"R":-292},{"z":-15,"R":-319},{"z":25,"R":-282},{"z":65,"R":-258},{"z":105,"R":-318},{"z":145,"R":-262},{"z":185,"R":-301},{"z":225,"R":-268},{"z":265,"R":-318},{"z":-195,"R":-318},{"z":-115,"R":-278},{"z":-35,"R":-278},{"z":45,"R":-285},{"z":125,"R":-285},{"z":205,"R":-312},{"z":-75,"R":-255},{"z":85,"R":-265},{"z":165,"R":-290},{"z":245,"R":-300},
{"z":-265,"R":-330},{"z":-248,"R":-352},{"z":-231,"R":-371},{"z":-214,"R":-337},{"z":-197,"R":-361},{"z":-180,"R":-381},{"z":-163,"R":-343},{"z":-146,"R":-366},{"z":-129,"R":-328},{"z":-112,"R":-352},{"z":-95,"R":-375},{"z":-78,"R":-339},{"z":-61,"R":-362},{"z":-44,"R":-384},{"z":-27,"R":-347},{"z":-10,"R":-370},{"z":7,"R":-332},{"z":24,"R":-356},{"z":41,"R":-378},{"z":58,"R":-341},{"z":75,"R":-365},{"z":92,"R":-326},{"z":109,"R":-350},{"z":126,"R":-373},{"z":143,"R":-336},{"z":160,"R":-359},{"z":177,"R":-380},{"z":194,"R":-344},{"z":211,"R":-367},{"z":228,"R":-329},{"z":245,"R":-353},{"z":262,"R":-376},{"z":-240,"R":-325},{"z":-190,"R":-330},{"z":-140,"R":-384},{"z":-90,"R":-322},{"z":-40,"R":-335},{"z":10,"R":-382},{"z":60,"R":-322},{"z":110,"R":-331},{"z":160,"R":-326},{"z":210,"R":-336},{"z":255,"R":-335},{"z":-220,"R":-383},{"z":-120,"R":-365},{"z":-20,"R":-358},{"z":80,"R":-384},{"z":180,"R":-352},{"z":-170,"R":-357},{"z":-70,"R":-378},{"z":30,"R":-341},{"z":130,"R":-349},{"z":230,"R":-378},{"z":-5,"R":-322},{"z":-135,"R":-346},
{"z":-258,"R":-398},{"z":-226,"R":-420},{"z":-195,"R":-405},{"z":-163,"R":-437},{"z":-131,"R":-392},{"z":-100,"R":-415},{"z":-68,"R":-440},{"z":-37,"R":-401},{"z":-5,"R":-428},{"z":26,"R":-394},{"z":58,"R":-418},{"z":89,"R":-442},{"z":121,"R":-405},{"z":152,"R":-431},{"z":184,"R":-396},{"z":215,"R":-421},{"z":247,"R":-409},{"z":-240,"R":-441},{"z":-180,"R":-390},{"z":-85,"R":-397},{"z":10,"R":-410},{"z":105,"R":-390},{"z":200,"R":-440},{"z":-210,"R":-426},{"z":-50,"R":-423},{"z":75,"R":-402},{"z":170,"R":-413},{"z":265,"R":-432},{"z":-115,"R":-442},{"z":40,"R":-437},
{"z":-246,"R":-461},{"z":-259,"R":-490},{"z":-224,"R":-479},{"z":-209,"R":-454},{"z":-200,"R":-462},{"z":-209,"R":-499},{"z":-195,"R":-508},{"z":-172,"R":-489},{"z":-165,"R":-471},{"z":-164,"R":-539},{"z":-150,"R":-472},{"z":-142,"R":-466},{"z":-136,"R":-470},{"z":-122,"R":-463},{"z":-111,"R":-464},{"z":-151,"R":-502},{"z":-147,"R":-529},{"z":-172,"R":-513},{"z":-167,"R":-519},{"z":-203,"R":-529},{"z":-216,"R":-524},{"z":-243,"R":-519},{"z":-235,"R":-552},{"z":-222,"R":-570},{"z":-213,"R":-577},{"z":-236,"R":-584},{"z":-247,"R":-603},{"z":-211,"R":-601},{"z":-197,"R":-602},{"z":-183,"R":-585},{"z":-187,"R":-602},{"z":-170,"R":-619},{"z":-196,"R":-637},{"z":-219,"R":-632},{"z":-188,"R":-626},{"z":-158,"R":-570},{"z":-127,"R":-591},{"z":-106,"R":-582},{"z":-118,"R":-602},{"z":-96,"R":-608},{"z":-105,"R":-635},{"z":-93,"R":-481},{"z":-85,"R":-491},{"z":-89,"R":-501},{"z":-76,"R":-512},{"z":-84,"R":-522},{"z":-68,"R":-527},{"z":-70,"R":-548},{"z":-74,"R":-556},{"z":-89,"R":-544},{"z":-47,"R":-455},{"z":-48,"R":-461},{"z":-58,"R":-475},{"z":-42,"R":-482},{"z":-37,"R":-504},{"z":-34,"R":-521},{"z":-43,"R":-535},{"z":-50,"R":-540},{"z":-44,"R":-559},{"z":-31,"R":-556},{"z":-48,"R":-584},{"z":-42,"R":-571},{"z":-34,"R":-596},{"z":-16,"R":-577},{"z":-11,"R":-582},{"z":-23,"R":-608},{"z":-5,"R":-608},{"z":11,"R":-573},{"z":25,"R":-594},{"z":14,"R":-636},{"z":0,"R":-637},{"z":-18,"R":-461},{"z":-8,"R":-471},{"z":6,"R":-472},{"z":18,"R":-471},{"z":25,"R":-483},{"z":30,"R":-487},{"z":40,"R":-492},{"z":11,"R":-505},{"z":26,"R":-502},{"z":14,"R":-516},{"z":22,"R":-521},{"z":47,"R":-505},{"z":56,"R":-508},{"z":65,"R":-522},{"z":66,"R":-536},{"z":69,"R":-549},{"z":63,"R":-558},{"z":56,"R":-554},{"z":73,"R":-561},{"z":90,"R":-566},{"z":101,"R":-568},{"z":80,"R":-535},{"z":82,"R":-512},{"z":75,"R":-479},{"z":70,"R":-465},{"z":86,"R":-462},{"z":96,"R":-470},{"z":110,"R":-479},{"z":112,"R":-496},{"z":112,"R":-508},{"z":110,"R":-522},{"z":117,"R":-529},{"z":127,"R":-528},{"z":125,"R":-546},{"z":138,"R":-550},{"z":129,"R":-558},{"z":141,"R":-575},{"z":152,"R":-566},{"z":116,"R":-588},{"z":131,"R":-622},{"z":150,"R":-636},{"z":161,"R":-641},{"z":133,"R":-463},{"z":139,"R":-470},{"z":149,"R":-462},{"z":161,"R":-476},{"z":163,"R":-490},{"z":178,"R":-496},{"z":174,"R":-508},{"z":187,"R":-504},{"z":192,"R":-522},{"z":204,"R":-477},{"z":206,"R":-493},{"z":221,"R":-460},{"z":230,"R":-512},{"z":236,"R":-521},{"z":244,"R":-487},{"z":250,"R":-478},{"z":203,"R":-557},{"z":217,"R":-543},{"z":230,"R":-540},{"z":241,"R":-552},{"z":180,"R":-585},{"z":175,"R":-602},{"z":185,"R":-592},{"z":203,"R":-599},{"z":209,"R":-619},{"z":220,"R":-613},{"z":265,"R":-631},{"z":249,"R":-556},{"z":235,"R":-584},{"z":260,"R":-558},{"z":38,"R":-632},{"z":63,"R":-636},{"z":51,"R":-611},{"z":92,"R":-626}
  ]},
  "resolve": {"axis": {"x": "independent", "y": "independent"}},
  "layer": [
    {
      "mark": {"type": "point", "shape": "square", "filled": true, "size": 6, "color": "black", "opacity": 1},
      "encoding": {
        "x": {"field": "z", "type": "quantitative", "scale": {"domain": [-800, 800], "nice": false, "zero": false},
          "axis": {"orient": "bottom", "values": [-800,-700,-600,-500,-400,-300,-200,-100,0,100,200,300,400,500,600,700,800],
            "tickSize": {"condition": {"test": "datum.value % 400 === 0", "value": -15}, "value": -9},
            "labelExpr": "datum.value % 400 === 0 ? datum.label : ''", "labelBaseline": "alphabetic", "labelPadding": 63, "labelFlush": false, "labelOverlap": false,
            "title": "stau decay vtx  z [cm]", "titleFontSize": 46, "titleX": 999, "titleY": 111, "titleAlign": "right", "titleAnchor": null, "titleBaseline": "alphabetic"}},
        "y": {"field": "R", "type": "quantitative", "scale": {"domain": [-750, 750], "nice": false, "zero": false},
          "axis": {"orient": "left", "values": [-700,-600,-500,-400,-300,-200,-100,0,100,200,300,400,500,600,700],
            "tickSize": {"condition": {"test": "datum.value % 500 === 0", "value": -15}, "value": -9},
            "labelExpr": "datum.value % 500 === 0 ? datum.label : ''", "labelBaseline": "middle", "labelPadding": 33, "labelFlush": false, "labelOverlap": false,
            "title": "R [cm]", "titleX": -165, "titleY": 2, "titleAngle": -90, "titleAlign": "right", "titleAnchor": null, "titleBaseline": "alphabetic"}}
      }
    },
    {
      "data": {"name": "boxes"},
      "transform": [{"filter": "datum.part === 'Yoke outer' || datum.part === 'Yoke inner'"}],
      "mark": {"type": "rect", "filled": false, "stroke": "#ff0000", "strokeWidth": 2.5},
      "encoding": {
        "x": {"field": "z1", "type": "quantitative", "axis": {"orient": "top", "values": [-800,-700,-600,-500,-400,-300,-200,-100,0,100,200,300,400,500,600,700,800],
            "tickSize": {"condition": {"test": "datum.value % 400 === 0", "value": -15}, "value": -9}, "labels": false, "title": null}},
        "x2": {"field": "z2"},
        "y": {"field": "r1", "type": "quantitative", "axis": {"orient": "right", "values": [-700,-600,-500,-400,-300,-200,-100,0,100,200,300,400,500,600,700],
            "tickSize": {"condition": {"test": "datum.value % 500 === 0", "value": -15}, "value": -9}, "labels": false, "title": null}},
        "y2": {"field": "r2"}
      }
    },
    {
      "data": {"name": "boxes"},
      "transform": [{"filter": "datum.part === 'Yoke middle'"}],
      "mark": {"type": "rect", "filled": false, "stroke": "#ff0000", "strokeWidth": 2.5, "strokeDash": [9, 3, 2, 3]},
      "encoding": {
        "x": {"field": "z1", "type": "quantitative", "axis": null},
        "x2": {"field": "z2"},
        "y": {"field": "r1", "type": "quantitative", "axis": null},
        "y2": {"field": "r2"}
      }
    },
    {
      "data": {"name": "boxes"},
      "transform": [{"filter": "datum.part === 'HCAL'"}],
      "mark": {"type": "rect", "filled": false, "stroke": "#00ff00", "strokeWidth": 2.5},
      "encoding": {
        "x": {"field": "z1", "type": "quantitative", "axis": null},
        "x2": {"field": "z2"},
        "y": {"field": "r1", "type": "quantitative", "axis": null},
        "y2": {"field": "r2"}
      }
    },
    {
      "data": {"name": "labels"},
      "mark": {"type": "text", "font": "Liberation Sans", "fontWeight": "bold", "fontSize": 36, "align": "center", "baseline": "alphabetic"},
      "encoding": {
        "x": {"field": "z", "type": "quantitative", "axis": null},
        "y": {"field": "R", "type": "quantitative", "axis": null},
        "text": {"field": "label"},
        "color": {"field": "label", "type": "nominal", "scale": {"domain": ["Yoke", "HCAL", "TPC"], "range": ["#ff0000", "#00ee00", "#000000"]}, "legend": null}
      }
    }
  ]
}
